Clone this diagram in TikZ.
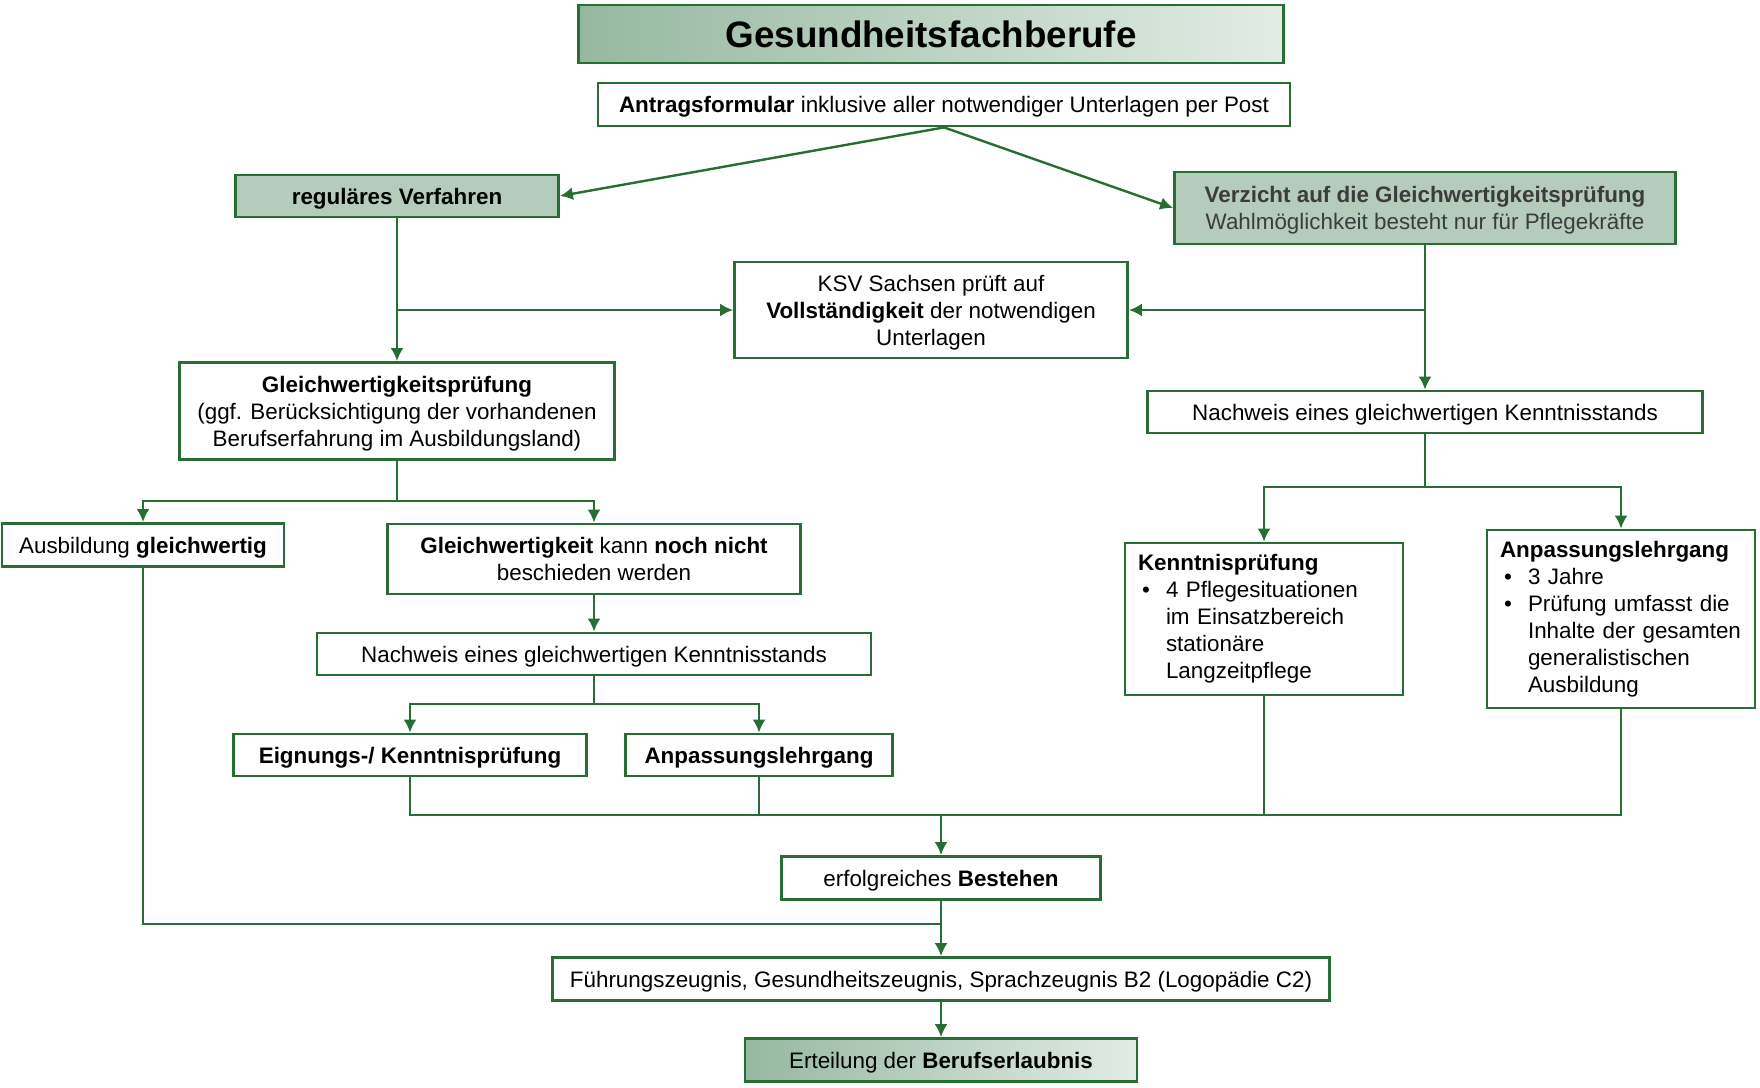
\documentclass[tikz,border=0pt]{standalone}
\usepackage{fontspec}
\setmainfont{Liberation Sans}
\usepackage{tikz}
\usetikzlibrary{arrows.meta}
\usetikzlibrary{positioning}
\usetikzlibrary{calc}

\definecolor{gborder}{RGB}{38,110,52}
\definecolor{gfill}{RGB}{181,203,187}
\definecolor{gleft}{RGB}{150,184,160}
\definecolor{gright}{RGB}{226,236,229}
\definecolor{gtext}{RGB}{60,60,60}

\newcommand{\bul}{\makebox[14pt][l]{\hspace{2pt}\textbullet}}
\newcommand{\ind}{\hspace*{14pt}}

\begin{document}
\begin{tikzpicture}[x=0.5pt, y=-0.5pt,
    box/.style={draw=gborder, line width=1.4pt, fill=white, inner sep=0pt, align=center,
        text depth=0pt, font=\fontsize{11.2}{13.5}\selectfont},
    listbox/.style={box, align=left, text depth={}},
    hbox/.style={box, fill=gfill},
    gbox/.style={box, left color=gleft, right color=gright},
    arr/.style={draw=gborder, line width=1.2pt, -{Latex[length=6.5pt,width=6.5pt]}},
    ln/.style={draw=gborder, line width=1.2pt}]
        \useasboundingbox (0,0) rectangle (1760,1087);
        % top
        \node[gbox, minimum width=352.5pt, minimum height=29pt, font=\fontsize{18.4}{22}\selectfont\bfseries](title) at (931,34) {Gesundheitsfachberufe};
        \node[box, minimum width=346pt, minimum height=21.5pt](antrag) at (944,104.5) {\textbf{Antragsformular} inklusive aller notwendiger Unterlagen per Post};
        \node[hbox, minimum width=161.5pt, minimum height=21pt](reg) at (397,196) {\textbf{reguläres Verfahren}};
        \node[hbox, minimum width=250.5pt, minimum height=36pt, text=gtext](verz) at (1425,208) {\textbf{Verzicht auf die Gleichwertigkeitsprüfung}\\Wahlmöglichkeit besteht nur für Pflegekräfte};
        \node[box, minimum width=196.5pt, minimum height=48pt](ksv) at (931,310) {KSV Sachsen prüft auf\\\textbf{Vollständigkeit} der notwendigen\\Unterlagen};
        % left branch
        \node[box, minimum width=217.5pt, minimum height=48.5pt](gleich) at (397,411) {\textbf{Gleichwertigkeitsprüfung}\\(ggf. Berücksichtigung der vorhandenen\\Berufserfahrung im Ausbildungsland)};
        \node[box, minimum width=141pt, minimum height=21.5pt](ausb) at (143,545) {Ausbildung \textbf{gleichwertig}};
        \node[box, minimum width=206.5pt, minimum height=35pt](gkn) at (594,559) {\textbf{Gleichwertigkeit} kann \textbf{noch nicht}\\beschieden werden};
        \node[box, minimum width=277pt, minimum height=21pt](nachl) at (594,654) {Nachweis eines gleichwertigen Kenntnisstands};
        \node[box, minimum width=176.5pt, minimum height=21pt](eig) at (410,755) {\textbf{Eignungs-/ Kenntnisprüfung}};
        \node[box, minimum width=133.5pt, minimum height=21pt](anpl) at (759,755) {\textbf{Anpassungslehrgang}};
        % right branch
        \node[box, minimum width=277.5pt, minimum height=21pt](nachr) at (1425,412) {Nachweis eines gleichwertigen Kenntnisstands};
        \node[listbox, inner xsep=6.5pt, text width=126pt, minimum height=76pt](kenn) at (1264,619) {\textbf{Kenntnisprüfung}\\\bul 4 Pflegesituationen\\\ind im Einsatzbereich\\\ind stationäre\\\ind Langzeitpflege};
        \node[listbox, inner xsep=6.5pt, text width=121pt, minimum height=89pt](anpr) at (1621,619) {\textbf{Anpassungslehrgang}\\\bul 3 Jahre\\\bul Prüfung umfasst die\\\ind Inhalte der gesamten\\\ind generalistischen\\\ind Ausbildung};
        % bottom
        \node[box, minimum width=159.5pt, minimum height=21.5pt](erf) at (941,878) {erfolgreiches \textbf{Bestehen}};
        \node[box, minimum width=388.5pt, minimum height=21.5pt](fz) at (941,979) {Führungszeugnis, Gesundheitszeugnis, Sprachzeugnis B2 (Logopädie C2)};
        \node[gbox, minimum width=196pt, minimum height=21.5pt](ert) at (941,1060) {Erteilung der \textbf{Berufserlaubnis}};

        \coordinate (g1) at (397,501);
        \coordinate (n1) at (594,704);
        \coordinate (r1) at (1425,487);
        \coordinate (c1) at (941,815);
        \coordinate (c2) at (941,924);

        \draw[arr] (antrag.south) -- (reg.east);
        \draw[arr] (antrag.south) -- (verz.west);
        \draw[arr] (reg.south) -- (gleich.north);
        \draw[arr] (reg.south |- ksv.west) -- (ksv.west);
        \draw[arr] (verz.south) -- (nachr.north);
        \draw[arr] (verz.south |- ksv.east) -- (ksv.east);
        \draw[ln] (gleich.south) -- (g1);
        \draw[arr] (g1) -| (ausb.north);
        \draw[arr] (g1) -| (gkn.north);
        \draw[arr] (gkn.south) -- (nachl.north);
        \draw[ln] (nachl.south) -- (n1);
        \draw[arr] (n1) -| (eig.north);
        \draw[arr] (n1) -| (anpl.north);
        \draw[ln] (nachr.south) -- (r1);
        \draw[arr] (r1) -| (kenn.north);
        \draw[arr] (r1) -| (anpr.north);
        \draw[ln] (eig.south) |- (anpr.south |- c1) -- (anpr.south);
        \draw[ln] (anpl.south) -- (anpl.south |- c1);
        \draw[ln] (kenn.south) -- (kenn.south |- c1);
        \draw[arr] (c1) -- (erf.north);
        \draw[ln] (ausb.south) |- (c2);
        \draw[arr] (erf.south) -- (fz.north);
        \draw[arr] (fz.south) -- (ert.north);
    \end{tikzpicture}
\end{document}
